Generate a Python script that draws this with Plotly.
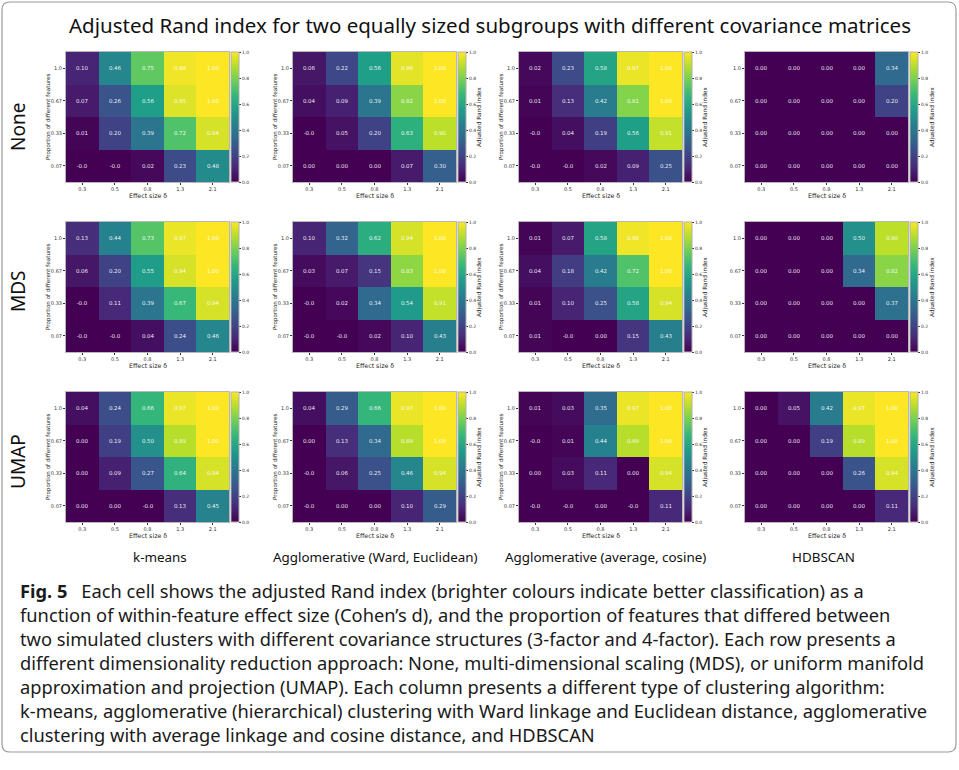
import math
import plotly.graph_objects as go

W, H = 959, 770

# Axis categories
effect_sizes = ["0.3", "0.5", "0.8", "1.3", "2.1"]
proportions = ["1.0", "0.67", "0.33", "0.07"]  # listed top row first
reductions = ["None", "MDS", "UMAP"]
algorithms = ["k-means", "Agglomerative (Ward, Euclidean)",
              "Agglomerative (average, cosine)", "HDBSCAN"]
cbar_ticks = [0.0, 0.2, 0.4, 0.6, 0.8, 1.0]

# Adjusted Rand index, rows = proportion (1.0 .. 0.07), cols = effect size
ari_none_kmeans = [[0.10, 0.46, 0.75, 0.98, 1.00],
                   [0.07, 0.26, 0.56, 0.95, 1.00],
                   [0.01, 0.20, 0.39, 0.72, 0.94],
                   [-0.0, -0.0, 0.02, 0.23, 0.48]]
ari_none_ward = [[0.06, 0.22, 0.56, 0.96, 1.00],
                 [0.04, 0.09, 0.39, 0.82, 1.00],
                 [-0.0, 0.05, 0.20, 0.63, 0.90],
                 [0.00, 0.00, 0.00, 0.07, 0.30]]
ari_none_average = [[0.02, 0.23, 0.58, 0.97, 1.00],
                    [0.01, 0.13, 0.42, 0.81, 1.00],
                    [-0.0, 0.04, 0.19, 0.56, 0.91],
                    [-0.0, -0.0, 0.02, 0.09, 0.25]]
ari_none_hdbscan = [[0.00, 0.00, 0.00, 0.00, 0.34],
                    [0.00, 0.00, 0.00, 0.00, 0.20],
                    [0.00, 0.00, 0.00, 0.00, 0.00],
                    [0.00, 0.00, 0.00, 0.00, 0.00]]

ari_mds_kmeans = [[0.13, 0.44, 0.73, 0.97, 1.00],
                  [0.06, 0.20, 0.55, 0.94, 1.00],
                  [-0.0, 0.11, 0.39, 0.67, 0.94],
                  [-0.0, -0.0, 0.04, 0.24, 0.46]]
ari_mds_ward = [[0.10, 0.32, 0.62, 0.94, 1.00],
                [0.03, 0.07, 0.15, 0.83, 1.00],
                [-0.0, 0.02, 0.34, 0.54, 0.91],
                [-0.0, -0.0, 0.02, 0.10, 0.43]]
ari_mds_average = [[0.01, 0.07, 0.58, 0.98, 1.00],
                   [0.04, 0.18, 0.42, 0.72, 1.00],
                   [0.01, 0.10, 0.25, 0.58, 0.94],
                   [0.01, -0.0, 0.00, 0.15, 0.43]]
ari_mds_hdbscan = [[0.00, 0.00, 0.00, 0.50, 0.90],
                   [0.00, 0.00, 0.00, 0.34, 0.82],
                   [0.00, 0.00, 0.00, 0.00, 0.37],
                   [0.00, 0.00, 0.00, 0.00, 0.00]]

ari_umap_kmeans = [[0.04, 0.24, 0.66, 0.97, 1.00],
                   [0.00, 0.19, 0.50, 0.89, 1.00],
                   [0.00, 0.09, 0.27, 0.64, 0.94],
                   [0.00, 0.00, -0.0, 0.13, 0.45]]
ari_umap_ward = [[0.04, 0.29, 0.66, 0.97, 1.00],
                 [0.00, 0.13, 0.34, 0.89, 1.00],
                 [-0.0, 0.06, 0.25, 0.46, 0.94],
                 [-0.0, 0.00, 0.00, 0.10, 0.29]]
ari_umap_average = [[0.01, 0.03, 0.35, 0.97, 1.00],
                    [-0.0, 0.01, 0.44, 0.89, 1.00],
                    [0.00, 0.03, 0.11, 0.00, 0.94],
                    [-0.0, -0.0, 0.00, -0.0, 0.11]]
ari_umap_hdbscan = [[0.00, 0.05, 0.42, 0.97, 1.00],
                    [0.00, 0.00, 0.19, 0.89, 1.00],
                    [0.00, 0.00, 0.00, 0.26, 0.94],
                    [0.00, 0.00, 0.00, 0.00, 0.11]]

grid = [
    [ari_none_kmeans, ari_none_ward, ari_none_average, ari_none_hdbscan],
    [ari_mds_kmeans, ari_mds_ward, ari_mds_average, ari_mds_hdbscan],
    [ari_umap_kmeans, ari_umap_ward, ari_umap_average, ari_umap_hdbscan],
]

caption_lines = [
    "<b>Fig. 5</b>\u2002 Each cell shows the adjusted Rand index (brighter colours indicate better classification) as a",
    "function of within-feature effect size (Cohen\u2019s d), and the proportion of features that differed between",
    "two simulated clusters with different covariance structures (3-factor and 4-factor). Each row presents a",
    "different dimensionality reduction approach: None, multi-dimensional scaling (MDS), or uniform manifold",
    "approximation and projection (UMAP). Each column presents a different type of clustering algorithm:",
    "k-means, agglomerative (hierarchical) clustering with Ward linkage and Euclidean distance, agglomerative",
    "clustering with average linkage and cosine distance, and HDBSCAN",
]

FONT = "Noto Sans"
SMALL = "DejaVu Sans"

# Panel geometry in pixels
heat_left = [66, 293, 519, 745]
heat_w = 163
row_top = [52, 222, 392]
heat_h = 130
cb_w = 8
ytitle_x = [48, 275, 501, None]
cbtitle_x = [None, 479, 705, 932]
row_label_y = [127, 291, 462]
col_label_x = [160, 375, 605, 823]


def px(x):
    return x / W


def py(y):
    return 1 - y / H


def cell_label(v):
    if v == 0 and math.copysign(1.0, v) < 0:
        return "-0.0"
    return f"{v:.2f}"


fig = go.Figure()
layout_axes = {}
annotations = []

idx = 0
for r in range(3):
    for c in range(4):
        idx += 1
        z = grid[r][c]
        text = [[cell_label(v) for v in row] for row in z]
        left, top = heat_left[c], row_top[r]
        xa = "x" if idx == 1 else f"x{idx}"
        ya = "y" if idx == 1 else f"y{idx}"
        fig.add_trace(go.Heatmap(
            z=z, x=effect_sizes, y=proportions, text=text,
            texttemplate="%{text}",
            textfont=dict(size=5.5, color="rgba(255,255,255,0.92)", family=SMALL),
            colorscale="Viridis", zmin=0, zmax=1,
            xaxis=xa, yaxis=ya, hoverinfo="skip",
            colorbar=dict(
                x=px(left + heat_w + 1.5), xanchor="left",
                y=py(top + heat_h / 2), yanchor="middle",
                len=heat_h / H, lenmode="fraction",
                thickness=cb_w, thicknessmode="pixels",
                xpad=0, ypad=0,
                outlinecolor="#b0b0b0", outlinewidth=1,
                tickvals=cbar_ticks,
                ticktext=[f"{t:.1f}" for t in cbar_ticks],
                ticks="outside", ticklen=2, tickwidth=0.6, tickcolor="#333",
                tickfont=dict(size=4.5, family=SMALL, color="#333"),
            ),
        ))
        key = "" if idx == 1 else str(idx)
        layout_axes[f"xaxis{key}"] = dict(
            domain=[px(left), px(left + heat_w)], anchor=ya,
            type="category", showgrid=False, zeroline=False,
            showline=True, mirror=True, linecolor="#b8b8b8", linewidth=1,
            ticks="outside", ticklen=2, tickwidth=0.6, tickcolor="#333",
            tickfont=dict(size=5, family=SMALL, color="#333"),
        )
        layout_axes[f"yaxis{key}"] = dict(
            domain=[py(top + heat_h), py(top)], anchor=xa,
            type="category", autorange="reversed",
            showgrid=False, zeroline=False,
            showline=True, mirror=True, linecolor="#b8b8b8", linewidth=1,
            ticks="outside", ticklen=2, tickwidth=0.6, tickcolor="#333",
            tickfont=dict(size=5, family=SMALL, color="#333"),
        )
        # x-axis title
        annotations.append(dict(
            x=px(left + heat_w / 2), y=py(top + heat_h + 13.5),
            xref="paper", yref="paper", showarrow=False,
            text="Effect size \u03b4", font=dict(size=6.3, family=SMALL, color="#222"),
            xanchor="center", yanchor="middle"))
        # y-axis title
        if ytitle_x[c] is not None:
            annotations.append(dict(
                x=px(ytitle_x[c]), y=py(top + heat_h / 2),
                xref="paper", yref="paper", showarrow=False, textangle=-90,
                text="Proportion of different features",
                font=dict(size=5.6, family=SMALL, color="#222"),
                xanchor="center", yanchor="middle"))
        # colour bar title
        if cbtitle_x[c] is not None:
            annotations.append(dict(
                x=px(cbtitle_x[c]), y=py(top + heat_h / 2),
                xref="paper", yref="paper", showarrow=False, textangle=-90,
                text="Adjusted Rand index",
                font=dict(size=5.8, family=SMALL, color="#222"),
                xanchor="center", yanchor="middle"))

# Overall title
annotations.append(dict(
    x=px(490), y=py(25), xref="paper", yref="paper", showarrow=False,
    text="Adjusted Rand index for two equally sized subgroups with different covariance matrices",
    font=dict(size=20.5, family=FONT, color="#111"), xanchor="center", yanchor="middle"))

# Row labels (dimensionality reduction)
for r, name in enumerate(reductions):
    annotations.append(dict(
        x=px(18), y=py(row_label_y[r]), xref="paper", yref="paper",
        showarrow=False, textangle=-90, text=name,
        font=dict(size=19, family=FONT, color="#111"),
        xanchor="center", yanchor="middle"))

# Column labels (clustering algorithm)
for c, name in enumerate(algorithms):
    annotations.append(dict(
        x=px(col_label_x[c]), y=py(557), xref="paper", yref="paper",
        showarrow=False, text=name,
        font=dict(size=13.4, family=FONT, color="#111"),
        xanchor="center", yanchor="middle"))

# Caption
for i, line in enumerate(caption_lines):
    annotations.append(dict(
        x=px(18), y=py(590 + 24 * i), xref="paper", yref="paper",
        showarrow=False, text=line, align="left",
        font=dict(size=18.3, family=FONT, color="#1a1a1a"),
        xanchor="left", yanchor="middle"))

# Rounded frame around figure and caption
x0, y0, x1, y1, rad = 2, 2, 956, 752, 8
path = (f"M {px(x0 + rad)} {py(y0)} L {px(x1 - rad)} {py(y0)} "
        f"Q {px(x1)} {py(y0)} {px(x1)} {py(y0 + rad)} "
        f"L {px(x1)} {py(y1 - rad)} Q {px(x1)} {py(y1)} {px(x1 - rad)} {py(y1)} "
        f"L {px(x0 + rad)} {py(y1)} Q {px(x0)} {py(y1)} {px(x0)} {py(y1 - rad)} "
        f"L {px(x0)} {py(y0 + rad)} Q {px(x0)} {py(y0)} {px(x0 + rad)} {py(y0)} Z")

fig.update_layout(
    width=W, height=H, autosize=False,
    margin=dict(l=0, r=0, t=0, b=0),
    paper_bgcolor="white", plot_bgcolor="white",
    showlegend=False,
    annotations=annotations,
    shapes=[dict(type="path", path=path, xref="paper", yref="paper",
                 line=dict(color="#9a9a9a", width=1.2))],
    **layout_axes,
)

fig.write_html("out.html")
